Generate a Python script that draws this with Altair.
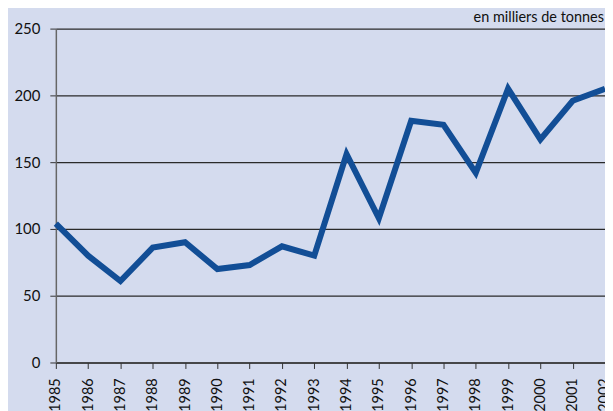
import altair as alt
import pandas as pd

years = [str(y) for y in range(1985, 2003)]
values = [104, 80, 61, 86, 90, 70, 73, 87, 80, 156, 108, 181, 178, 142, 205, 167, 196, 205]
unit_label = "en milliers de tonnes"

df = pd.DataFrame({"year": years, "value": values})

FONT = "Lato"
BG = "#d4dbee"

base = alt.Chart(df)

line = base.mark_line(color="#124e96", strokeWidth=6, strokeJoin="miter", strokeCap="butt").encode(
    x=alt.X("year:O", sort=years,
            scale=alt.Scale(type="point", padding=0),
            axis=alt.Axis(title=None, labelAngle=-90, labelAlign="left", labelBaseline="middle",
                          labelPadding=43, tickSize=6, tickColor="#333333", domainColor="#333333",
                          domainWidth=1.5, labelFont=FONT, labelFontSize=14.5, labelColor="#111111",
                          grid=False)),
    y=alt.Y("value:Q", scale=alt.Scale(domain=[0, 250], nice=False),
            axis=alt.Axis(title=None, values=[0, 50, 100, 150, 200, 250], grid=True,
                          gridColor="#2a2a2a", gridWidth=1.2, tickSize=6, tickColor="#333333",
                          domainColor="#666666", domainWidth=1.5, labelPadding=10,
                          labelFont=FONT, labelFontSize=15, labelColor="#111111")),
)

label = alt.Chart(pd.DataFrame({"t": [unit_label]})).mark_text(
    align="right", baseline="bottom", font=FONT, fontSize=14.5, color="#111111"
).encode(
    text="t:N",
    x=alt.value(550),
    y=alt.value(-4),
)

chart = alt.layer(line, label).properties(
    width=551,
    height=335,
    background=BG,
    padding={"left": 48, "top": 20, "right": 0, "bottom": 48},
    autosize=alt.AutoSizeParams(type="none"),
).configure_view(stroke="transparent")

chart.save("out.html", embed_options={"renderer": "svg", "actions": False})
